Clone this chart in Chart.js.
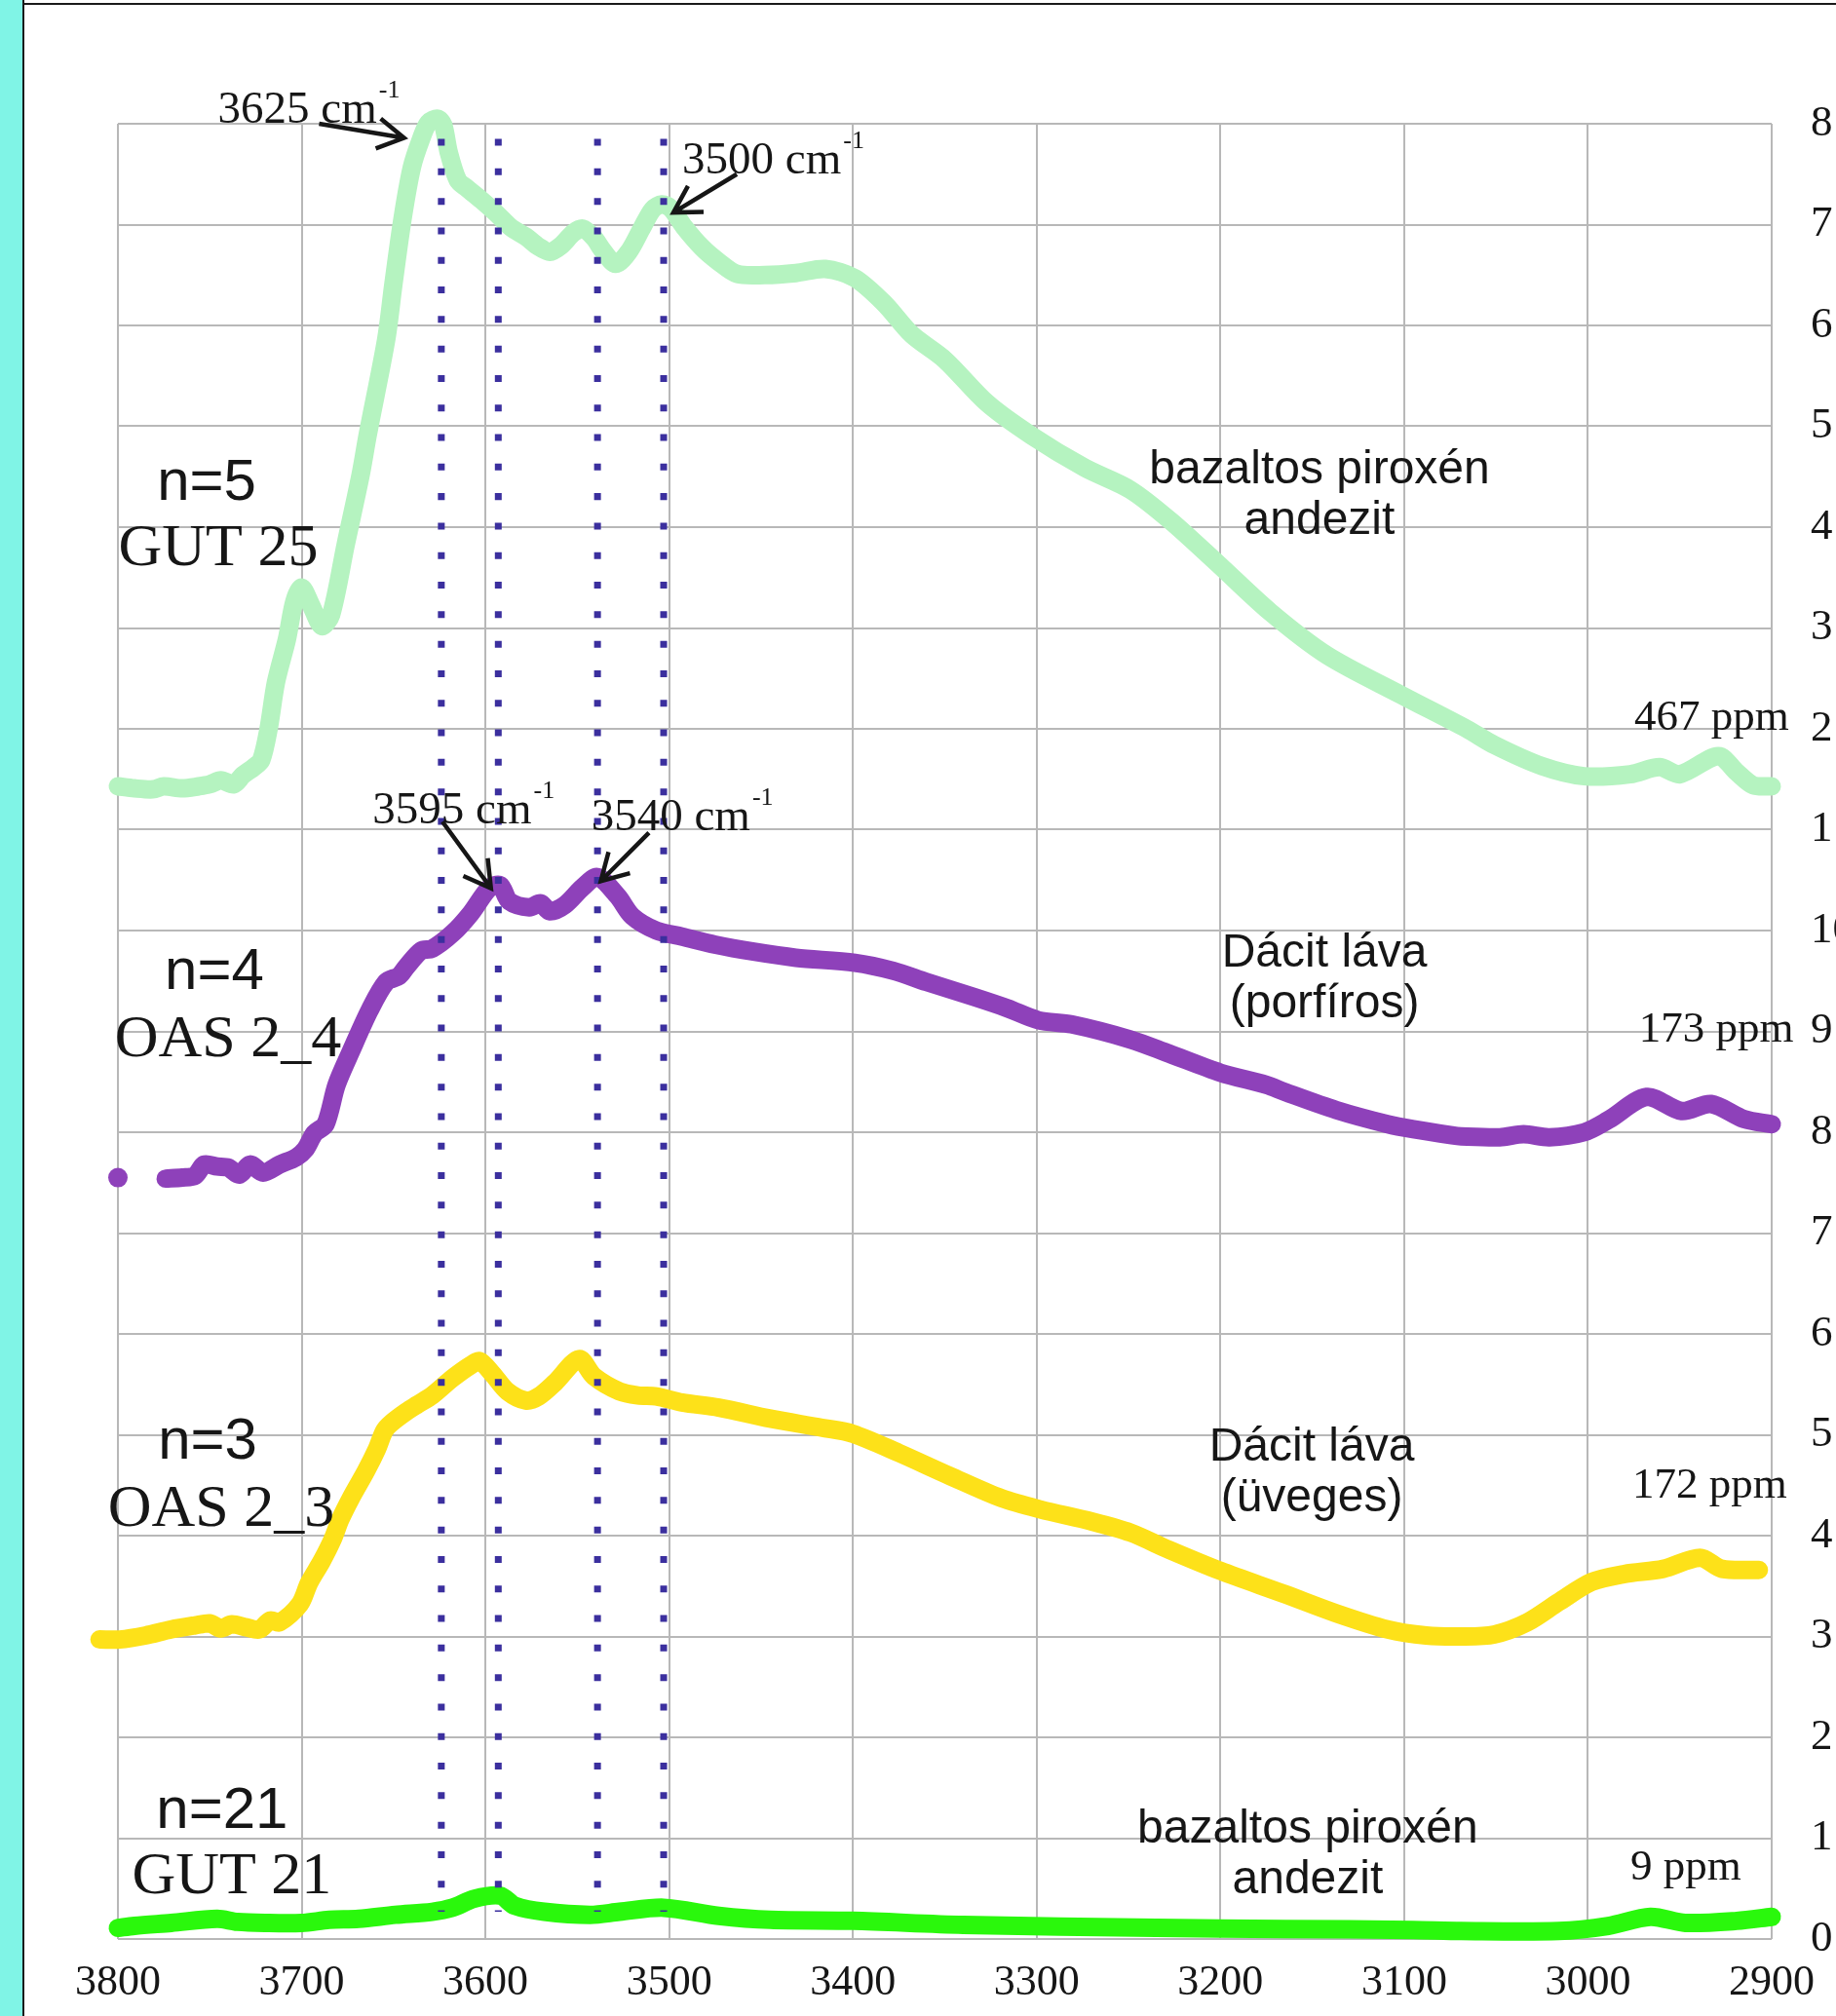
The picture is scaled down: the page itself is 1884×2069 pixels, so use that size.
<!DOCTYPE html>
<html><head><meta charset="utf-8">
<script src="https://cdn.jsdelivr.net/npm/chart.js@4.4.0/dist/chart.umd.min.js"></script>
<style>
html,body{margin:0;padding:0;background:#fff;width:1884px;height:2069px;overflow:hidden;}
#strip{position:absolute;left:0;top:0;width:23px;height:2069px;background:#80f4e6;}
#vline{position:absolute;left:23px;top:0;width:2px;height:2069px;background:#1a1a1a;}
#hline{position:absolute;left:23px;top:3px;width:1861px;height:2px;background:#1a1a1a;}
canvas{position:absolute;left:0;top:0;}
</style></head><body>
<div id="strip"></div><div id="vline"></div><div id="hline"></div>
<canvas id="c" width="1884" height="2069"></canvas>
<script>
// ---- DATA ----
const xTicks = [3800,3700,3600,3500,3400,3300,3200,3100,3000,2900];
const yTickLabels = ['0','1','2','3','4','5','6','7','8','9','10','1','2','3','4','5','6','7','8'];

const gut25X = [3800,3791,3781,3775,3765,3756,3750,3744,3737,3732,3726,3722,3718,3714,3708,3704,3700,3695,3689,3684,3676,3668,3664,3654,3650,3645,3640,3635,3631,3626,3623,3620,3615,3610,3602,3594,3586,3578,3571,3565,3559,3552,3547,3541,3536,3529,3522,3515,3509,3504,3499,3492,3482,3473,3463,3448,3431,3415,3399,3383,3368,3350,3327,3303,3274,3249,3227,3201,3173,3142,3102,3066,3051,3025,3002,2977,2961,2950,2929,2919,2910,2900];
const gut25Y = [11.43,11.41,11.40,11.43,11.41,11.43,11.45,11.49,11.45,11.54,11.62,11.69,12.00,12.46,12.89,13.26,13.40,13.23,13.02,13.13,13.83,14.51,14.92,15.86,16.42,17.07,17.57,17.85,18.01,18.05,17.99,17.72,17.44,17.36,17.24,17.11,16.97,16.88,16.78,16.73,16.79,16.92,16.96,16.87,16.74,16.61,16.73,16.96,17.15,17.20,17.16,16.98,16.77,16.63,16.51,16.50,16.52,16.56,16.47,16.22,15.91,15.66,15.23,14.91,14.59,14.37,14.06,13.63,13.16,12.73,12.34,12.00,11.84,11.63,11.53,11.55,11.62,11.55,11.73,11.57,11.44,11.43];

const oas24X = [3800,3788,3774,3765,3758,3753,3746,3740,3734,3728,3721,3712,3703,3698,3693,3687,3681,3673,3663,3654,3647,3643,3635,3629,3618,3608,3598,3592,3587,3576,3570,3565,3557,3547,3539,3528,3520,3507,3493,3475,3454,3431,3399,3378,3360,3334,3316,3299,3281,3249,3228,3200,3175,3165,3137,3109,3095,3074,3069,3048,3035,3021,3002,2989,2968,2949,2933,2915,2900];
const oas24Y = [7.55,null,7.54,7.55,7.57,7.68,7.66,7.65,7.58,7.68,7.60,7.68,7.75,7.83,7.99,8.08,8.47,8.81,9.21,9.49,9.55,9.64,9.80,9.82,9.97,10.17,10.42,10.45,10.29,10.23,10.27,10.19,10.25,10.43,10.53,10.34,10.14,10.00,9.94,9.86,9.79,9.73,9.68,9.60,9.49,9.34,9.23,9.11,9.07,8.92,8.78,8.59,8.47,8.40,8.22,8.08,8.03,7.97,7.96,7.95,7.98,7.95,8.00,8.12,8.35,8.21,8.28,8.13,8.08];

const oas23X = [3810,3799,3785,3771,3758,3750,3744,3738,3730,3723,3717,3712,3701,3696,3689,3683,3679,3673,3665,3659,3655,3651,3643,3637,3629,3618,3608,3603,3596,3588,3578,3571,3562,3549,3541,3527,3517,3507,3493,3473,3445,3417,3400,3375,3347,3319,3298,3270,3249,3228,3200,3165,3137,3109,3088,3069,3051,3033,3016,2998,2980,2959,2939,2927,2907];
const oas23Y = [2.97,2.97,3.01,3.07,3.11,3.13,3.08,3.12,3.09,3.07,3.16,3.14,3.32,3.53,3.75,3.97,4.16,4.38,4.64,4.86,5.04,5.12,5.23,5.30,5.39,5.56,5.69,5.73,5.60,5.43,5.34,5.38,5.52,5.75,5.58,5.43,5.39,5.38,5.32,5.27,5.16,5.07,5.01,4.82,4.59,4.37,4.26,4.14,4.03,3.86,3.65,3.42,3.23,3.07,3.01,3.00,3.02,3.14,3.34,3.54,3.62,3.67,3.78,3.67,3.66];

const gut21X = [3800,3791,3771,3746,3735,3720,3700,3685,3669,3649,3629,3618,3606,3592,3584,3568,3543,3527,3503,3473,3445,3400,3340,3235,3165,3095,3069,3016,2989,2966,2947,2919,2900];
const gut21Y = [0.11,0.13,0.16,0.20,0.17,0.16,0.16,0.19,0.20,0.24,0.27,0.31,0.40,0.43,0.33,0.27,0.24,0.27,0.31,0.23,0.19,0.18,0.14,0.11,0.10,0.09,0.08,0.08,0.13,0.22,0.16,0.18,0.22];

const peakLines = [3624,3593,3539,3503];
const peakLineRange = [17.85, 0.27];

// ---- ANNOTATIONS (text in data coordinates) ----
const sampleLabels = [
  {t:'n=5', f:'60px "Liberation Sans"', x:3751.7, y:14.27},
  {t:'GUT 25', f:'62px "Liberation Serif"', x:3745.4, y:13.62},
  {t:'n=4', f:'60px "Liberation Sans"', x:3747.5, y:9.42},
  {t:'OAS 2_4', f:'62px "Liberation Serif"', x:3740.1, y:8.75},
  {t:'n=3', f:'60px "Liberation Sans"', x:3751.2, y:4.76},
  {t:'OAS 2_3', f:'62px "Liberation Serif"', x:3743.8, y:4.10},
  {t:'n=21', f:'60px "Liberation Sans"', x:3743.3, y:1.10},
  {t:'GUT 21', f:'62px "Liberation Serif"', x:3738.0, y:0.45}
];
const rockLabels = [
  {t:'bazaltos piroxén', x:3146.1, y:14.43},
  {t:'andezit', x:3146.1, y:13.93},
  {t:'Dácit láva', x:3143.4, y:9.64},
  {t:'(porfíros)', x:3143.4, y:9.14},
  {t:'Dácit láva', x:3150.3, y:4.74},
  {t:'(üveges)', x:3150.3, y:4.24},
  {t:'bazaltos piroxén', x:3152.5, y:0.96},
  {t:'andezit', x:3152.5, y:0.45}
];
const ppmLabels = [
  {t:'467 ppm', x:2974.8, y:11.99},
  {t:'173 ppm', x:2972.2, y:8.90},
  {t:'172 ppm', x:2975.9, y:4.38},
  {t:'9 ppm', x:2976.9, y:0.59}
];
const peakLabels = [
  {t:'3625 cm', x:3745.6, y:18.01, tail:[3690.5,18.00], tip:[3644.3,17.86]},
  {t:'3500 cm', x:3492.9, y:17.51, tail:[3463.2,17.50], tip:[3497.7,17.12]},
  {t:'3595 cm', x:3661.4, y:11.06, tail:[3623.4,11.08], tip:[3597.0,10.42]},
  {t:'3540 cm', x:3542.4, y:11.00, tail:[3511.0,10.97], tip:[3537.2,10.49]}
];

function pts(xs, ys){ return xs.map((v,i)=>({x:v, y:ys[i]})); }

const datasets = [];
peakLines.forEach(v=>{
  datasets.push({data:[{x:v,y:peakLineRange[0]},{x:v,y:peakLineRange[1]}], borderColor:'#3b2f9e', borderWidth:7, borderDash:[7,23.3], borderCapStyle:'butt', pointRadius:0, clip:false});
});
const lineStyle = {borderWidth:19, borderCapStyle:'round', borderJoinStyle:'round', pointRadius:0, tension:0.3, clip:false, spanGaps:false};
datasets.push(Object.assign({label:'OAS 2_4', data:pts(oas24X,oas24Y), borderColor:'#8e41ba', backgroundColor:'#8e41ba',
  pointBorderWidth:0, pointBackgroundColor:'#8e41ba'}, lineStyle, {pointRadius:(c)=>c.dataIndex===0?10:0}));
datasets.push(Object.assign({label:'GUT 25', data:pts(gut25X,gut25Y), borderColor:'#b5f3c0'}, lineStyle));
datasets.push(Object.assign({label:'OAS 2_3', data:pts(oas23X,oas23Y), borderColor:'#fde119'}, lineStyle));
datasets.push(Object.assign({label:'GUT 21', data:pts(gut21X,gut21Y), borderColor:'#2af80c'}, lineStyle));

function arrow(ctx, x1,y1,x2,y2){
  const a = Math.atan2(y2-y1, x2-x1), L = 31, w = Math.PI/6;
  ctx.beginPath();
  ctx.moveTo(x1,y1); ctx.lineTo(x2,y2);
  ctx.moveTo(x2 - L*Math.cos(a-w), y2 - L*Math.sin(a-w));
  ctx.lineTo(x2,y2);
  ctx.lineTo(x2 - L*Math.cos(a+w), y2 - L*Math.sin(a+w));
  ctx.stroke();
}

const textPlugin = {
  id:'texts',
  afterDatasetsDraw(chart){
    const ctx = chart.ctx, sx = chart.scales.x, sy = chart.scales.y;
    ctx.save();
    ctx.fillStyle = '#161616'; ctx.strokeStyle = '#161616';
    ctx.textBaseline = 'alphabetic';
    ctx.textAlign = 'center';
    sampleLabels.forEach(l=>{ ctx.font = l.f; ctx.fillText(l.t, sx.getPixelForValue(l.x), sy.getPixelForValue(l.y)); });
    ctx.font = '48px "Liberation Sans"';
    rockLabels.forEach(l=>{ ctx.fillText(l.t, sx.getPixelForValue(l.x), sy.getPixelForValue(l.y)); });
    ctx.textAlign = 'left';
    ctx.font = '45px "Liberation Serif"';
    ppmLabels.forEach(l=>{ ctx.fillText(l.t, sx.getPixelForValue(l.x), sy.getPixelForValue(l.y)); });
    ctx.lineWidth = 4.5; ctx.lineJoin = 'miter'; ctx.lineCap = 'butt';
    peakLabels.forEach(l=>{
      const px = sx.getPixelForValue(l.x), py = sy.getPixelForValue(l.y);
      ctx.font = '47px "Liberation Serif"';
      ctx.fillText(l.t, px, py);
      const w = ctx.measureText(l.t).width;
      ctx.font = '26px "Liberation Serif"';
      ctx.fillText('-1', px + w + 2, py - 26);
      arrow(ctx, sx.getPixelForValue(l.tail[0]), sy.getPixelForValue(l.tail[1]), sx.getPixelForValue(l.tip[0]), sy.getPixelForValue(l.tip[1]));
    });
    ctx.restore();
  }
};

const gridColor = '#b8b8b8';
new Chart(document.getElementById('c'), {
  type:'line',
  data:{datasets},
  plugins:[textPlugin],
  options:{
    responsive:false, animation:false, devicePixelRatio:1,
    layout:{padding:{left:121, top:127, right:0, bottom:0}},
    plugins:{legend:{display:false}, tooltip:{enabled:false}},
    scales:{
      x:{type:'linear', reverse:true, min:2900, max:3800,
        afterBuildTicks:(s)=>{ s.ticks = xTicks.map(v=>({value:v})); },
        ticks:{autoSkip:false, maxRotation:0, padding:19, color:'#161616', font:{family:'Liberation Serif', size:44}, callback:(v)=>String(v)},
        grid:{color:gridColor, lineWidth:2, drawTicks:false}, border:{display:false},
        afterFit:(s)=>{ s.height = 79; }},
      y:{position:'right', min:0, max:18,
        afterBuildTicks:(s)=>{ s.ticks = yTickLabels.map((t,i)=>({value:i})); },
        ticks:{padding:40, color:'#161616', font:{family:'Liberation Serif', size:45}, callback:(v)=>yTickLabels[v]},
        grid:{color:gridColor, lineWidth:2, drawTicks:false}, border:{display:false},
        afterFit:(s)=>{ s.width = 66; }}
    }
  }
});
</script></body></html>
